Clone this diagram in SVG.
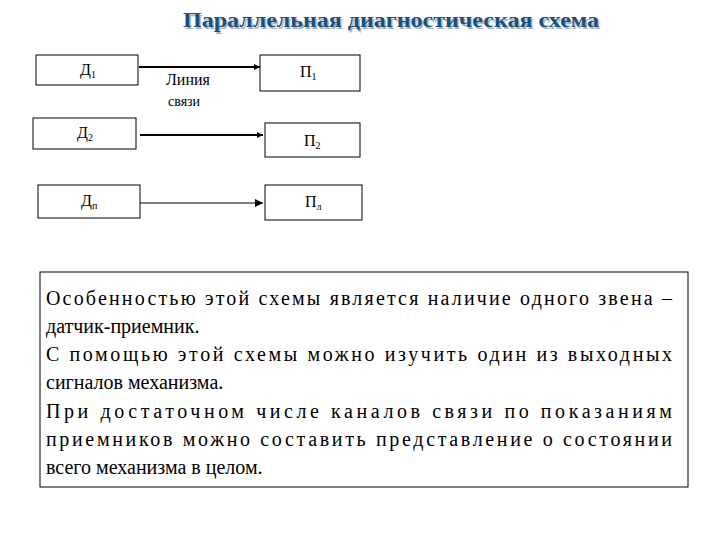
<svg xmlns="http://www.w3.org/2000/svg" width="720" height="540" viewBox="0 0 720 540">
<defs>
<style>
.b{fill:#fff;stroke:#000;stroke-width:1}
.c{stroke:#000;fill:none}
.f{font-family:'Liberation Serif','Times New Roman','DejaVu Serif',serif}
</style>
<marker id="a" viewBox="0 0 10 10" refX="10" refY="5" markerWidth="6" markerHeight="6" orient="auto" markerUnits="userSpaceOnUse"><path d="M0,0L10,5L0,10z" fill="#000"/></marker>
<marker id="a2" viewBox="0 0 10 10" refX="10" refY="5" markerWidth="8" markerHeight="8" orient="auto" markerUnits="userSpaceOnUse"><path d="M0,0L10,5L0,10z" fill="#000"/></marker>
</defs>
<rect width="720" height="540" fill="#fff"/>
<g class="f">
<text x="183" y="27" textLength="416" lengthAdjust="spacingAndGlyphs" font-weight="bold" font-size="20" fill="#9db4cf" transform="translate(1.5,1.5)">Параллельная диагностическая схема</text>
<text x="183" y="27" textLength="416" lengthAdjust="spacingAndGlyphs" font-weight="bold" font-size="20" fill="#1f4e79">Параллельная диагностическая схема</text>
</g>
<g class="f" font-size="16" fill="#000">
<g id="d1"><rect class="b" x="36" y="55" width="102" height="30"/><text x="80" y="75">Д<tspan font-size="10" dy="3">1</tspan></text></g>
<g id="p1"><rect class="b" x="260" y="55" width="100" height="36"/><text x="300" y="77">П<tspan font-size="10" dy="3">1</tspan></text></g>
<g id="d2"><rect class="b" x="33" y="118" width="103" height="31"/><text x="77" y="138">Д<tspan font-size="10" dy="3">2</tspan></text></g>
<g id="p2"><rect class="b" x="265" y="123" width="95" height="34"/><text x="304" y="146">П<tspan font-size="10" dy="3">2</tspan></text></g>
<g id="dn"><rect class="b" x="38" y="185" width="102" height="33"/><text x="81" y="206">Д<tspan font-size="10" dy="3">п</tspan></text></g>
<g id="pn"><rect class="b" x="265" y="185" width="97" height="35"/><text x="305" y="207">П<tspan font-size="10" dy="3">л</tspan></text></g>
<g id="lbl"><text x="166" y="85">Линия</text><text x="168" y="106" font-size="14">связи</text></g>
</g>
<g id="connectors">
<line class="c" x1="139" y1="67" x2="260" y2="67" stroke-width="2" marker-end="url(#a)"/>
<line class="c" x1="140" y1="135" x2="263" y2="135" stroke-width="2" marker-end="url(#a)"/>
<line class="c" x1="140" y1="203" x2="263" y2="203" stroke-width="1" marker-end="url(#a2)"/>
</g>
<g id="note" class="f" font-size="20" fill="#000">
<rect class="b" x="40" y="272" width="648" height="215"/>
<text x="46" y="305" textLength="626" lengthAdjust="spacing">Особенностью этой схемы является наличие одного звена –</text>
<text x="46" y="333">датчик-приемник.</text>
<text x="46" y="361" textLength="626" lengthAdjust="spacing">С помощью этой схемы можно изучить один из выходных</text>
<text x="46" y="389">сигналов механизма.</text>
<text x="46" y="418" textLength="626" lengthAdjust="spacing">При достаточном числе каналов связи по показаниям</text>
<text x="46" y="446" textLength="626" lengthAdjust="spacing">приемников можно составить представление о состоянии</text>
<text x="46" y="474">всего механизма в целом.</text>
</g>
</svg>
